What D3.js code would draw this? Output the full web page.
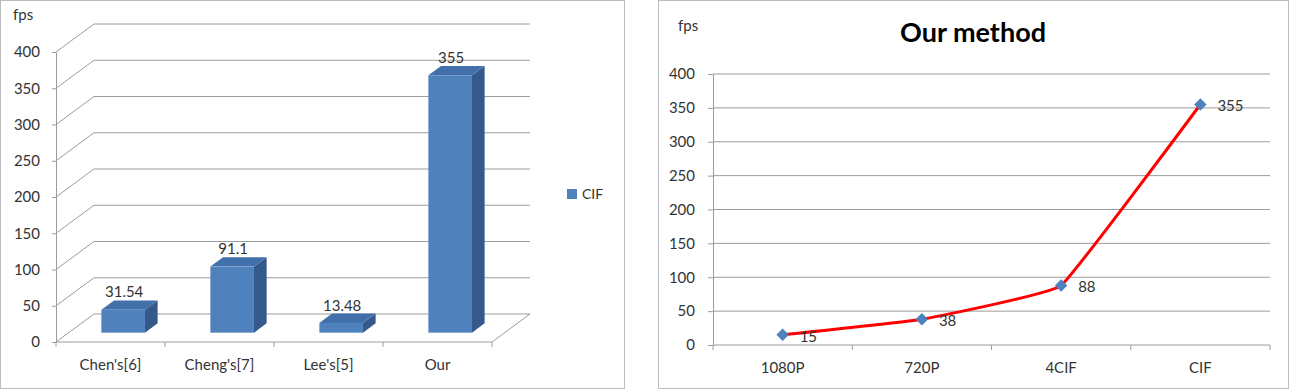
<!DOCTYPE html>
<html>
<head>
<meta charset="utf-8">
<script src="https://cdn.jsdelivr.net/npm/d3@7"></script>
<style>
  html, body { margin: 0; padding: 0; background: #fff; }
  svg { display: block; font-family: Lato, "Open Sans", sans-serif; }
</style>
</head>
<body>
<svg id="c" width="1296" height="390"></svg>
<script>
// ---------- data ----------
const barCategories = ["Chen's[6]", "Cheng's[7]", "Lee's[5]", "Our"];
const barValues = [31.54, 91.1, 13.48, 355];
const barLabels = ["31.54", "91.1", "13.48", "355"];
const barSeriesName = "CIF";
const barYTicks = [0, 50, 100, 150, 200, 250, 300, 350, 400];

const lineCategories = ["1080P", "720P", "4CIF", "CIF"];
const lineValues = [15, 38, 88, 355];
const lineYTicks = [0, 50, 100, 150, 200, 250, 300, 350, 400];
const lineTitle = "Our method";
const yUnit = "fps";

// ---------- drawing ----------
const svg = d3.select("#c");
const frameColor = "#bdbdbd";
const gridColor = "#9c9c9c";
const textColor = "#333333";

// frames
svg.append("rect").attr("x", 0.5).attr("y", 0.5).attr("width", 624).attr("height", 388)
  .attr("fill", "none").attr("stroke", frameColor);
svg.append("rect").attr("x", 658.5).attr("y", 0.5).attr("width", 630).attr("height", 388)
  .attr("fill", "none").attr("stroke", frameColor);

// ===== Left: 3D column chart =====
(function () {
  const g = svg.append("g");
  const x0 = 56, x1 = 492;
  const D = { x: 38, y: -28 };           // depth vector
  const y = d3.scaleLinear().domain([0, 400]).range([342, 52]);
  const x = d3.scaleBand().domain(barCategories).range([x0, x1]).paddingInner(0.6).paddingOuter(0.3);
  const xb = d3.scaleBand().domain(barCategories).range([x0, x1]);

  // back wall gridlines + floor diag
  barYTicks.forEach(v => {
    const yy = y(v);
    g.append("path")
      .attr("d", `M${x0},${yy} L${x0 + D.x},${yy + D.y} L${x1 + D.x},${yy + D.y}`)
      .attr("fill", "none").attr("stroke", gridColor).attr("stroke-width", 1);
  });
  // floor right edge
  g.append("line").attr("x1", x1).attr("y1", y(0)).attr("x2", x1 + D.x).attr("y2", y(0) + D.y)
    .attr("stroke", gridColor);
  // x axis front line
  g.append("line").attr("x1", x0).attr("y1", y(0)).attr("x2", x1).attr("y2", y(0))
    .attr("stroke", gridColor);
  // x category boundary ticks
  const bounds = barCategories.map(c => xb(c)).concat([x1]);
  bounds.forEach(b => {
    g.append("line").attr("x1", b).attr("x2", b).attr("y1", y(0)).attr("y2", y(0) + 5)
      .attr("stroke", gridColor);
  });
  // y axis
  const yAxis = d3.axisLeft(y).tickValues(barYTicks).tickSize(4).tickSizeOuter(0).tickPadding(12);
  const ya = g.append("g").attr("transform", `translate(${x0},0)`).call(yAxis);
  ya.select(".domain").attr("stroke", gridColor);
  ya.selectAll(".tick line").attr("stroke", gridColor);
  ya.selectAll(".tick text").attr("fill", textColor).style("font-size", "15px")
    .style("font-family", "Lato, sans-serif");

  // x labels
  barCategories.forEach(c => {
    g.append("text").attr("x", xb(c) + xb.bandwidth() / 2).attr("y", 370)
      .attr("text-anchor", "middle").attr("fill", textColor).style("font-size", "15px")
      .text(c);
  });

  // bars
  const d3x = D.x / 3, d3y = D.y / 3;
  const front = "#4f81bd", top = "#4170ab", side = "#34598a";
  barCategories.forEach((c, i) => {
    const v = barValues[i];
    const bx = x(c) + d3x, bw = x.bandwidth();
    const yb = y(0) + d3y, yt = y(v) + d3y;
    g.append("path").attr("d",
      `M${bx + bw},${yt} L${bx + bw + d3x},${yt + d3y} L${bx + bw + d3x},${yb + d3y} L${bx + bw},${yb} Z`)
      .attr("fill", side);
    g.append("path").attr("d",
      `M${bx},${yt} L${bx + d3x},${yt + d3y} L${bx + bw + d3x},${yt + d3y} L${bx + bw},${yt} Z`)
      .attr("fill", top);
    g.append("rect").attr("x", bx).attr("y", yt).attr("width", bw).attr("height", yb - yt)
      .attr("fill", front);
    g.append("text").attr("x", bx + bw / 2 + 1).attr("y", yt + d3y - 3)
      .attr("text-anchor", "middle").attr("fill", textColor).style("font-size", "15px")
      .text(barLabels[i]);
  });

  g.append("text").attr("x", 13).attr("y", 20).attr("fill", textColor).style("font-size", "15px").text(yUnit);

  // legend
  g.append("rect").attr("x", 567).attr("y", 189).attr("width", 10).attr("height", 10).attr("fill", front);
  g.append("text").attr("x", 582).attr("y", 199).attr("fill", textColor).style("font-size", "14px").text(barSeriesName);
})();

// ===== Right: line chart =====
(function () {
  const g = svg.append("g");
  const x0 = 713, x1 = 1270;
  const y = d3.scaleLinear().domain([0, 400]).range([345, 74]);
  const x = d3.scaleBand().domain(lineCategories).range([x0, x1]);
  const cx = c => x(c) + x.bandwidth() / 2;

  lineYTicks.filter(v => v > 0).forEach(v => {
    g.append("line").attr("x1", x0).attr("x2", x1).attr("y1", y(v)).attr("y2", y(v))
      .attr("stroke", gridColor);
  });
  g.append("line").attr("x1", x0).attr("x2", x1).attr("y1", y(0)).attr("y2", y(0)).attr("stroke", gridColor);
  lineCategories.map(c => x(c)).concat([x1]).forEach(b => {
    g.append("line").attr("x1", b).attr("x2", b).attr("y1", y(0)).attr("y2", y(0) + 5).attr("stroke", gridColor);
  });
  lineCategories.forEach(c => {
    g.append("text").attr("x", cx(c)).attr("y", 373).attr("text-anchor", "middle")
      .attr("fill", textColor).style("font-size", "15px").text(c);
  });
  const yAxis = d3.axisLeft(y).tickValues(lineYTicks).tickSize(5).tickSizeOuter(0).tickPadding(13);
  const ya = g.append("g").attr("transform", `translate(${x0},0)`).call(yAxis);
  ya.select(".domain").attr("stroke", gridColor);
  ya.selectAll(".tick line").attr("stroke", gridColor);
  ya.selectAll(".tick text").attr("fill", textColor).style("font-size", "15px")
    .style("font-family", "Lato, sans-serif");

  const line = d3.line().x((d, i) => cx(lineCategories[i])).y(d => y(d)).curve(d3.curveCardinal.tension(0.75));
  g.append("path").datum(lineValues).attr("d", line).attr("fill", "none")
    .attr("stroke", "#ff0000").attr("stroke-width", 3).attr("stroke-linejoin", "round");

  const sym = d3.symbol().type(d3.symbolSquare).size(78);
  lineValues.forEach((v, i) => {
    g.append("path").attr("d", sym())
      .attr("transform", `translate(${cx(lineCategories[i])},${y(v)}) rotate(45)`)
      .attr("fill", "#4f81bd");
    g.append("text").attr("x", cx(lineCategories[i]) + 17).attr("y", y(v) + 7)
      .attr("fill", textColor).style("font-size", "15px").text(String(v));
  });

  g.append("text").attr("x", 973).attr("y", 42).attr("text-anchor", "middle")
    .attr("fill", "#000").style("font-size", "27px").style("font-weight", "bold").text(lineTitle);
  g.append("text").attr("x", 678).attr("y", 31).attr("fill", textColor).style("font-size", "15px").text(yUnit);
})();
</script>
</body>
</html>
